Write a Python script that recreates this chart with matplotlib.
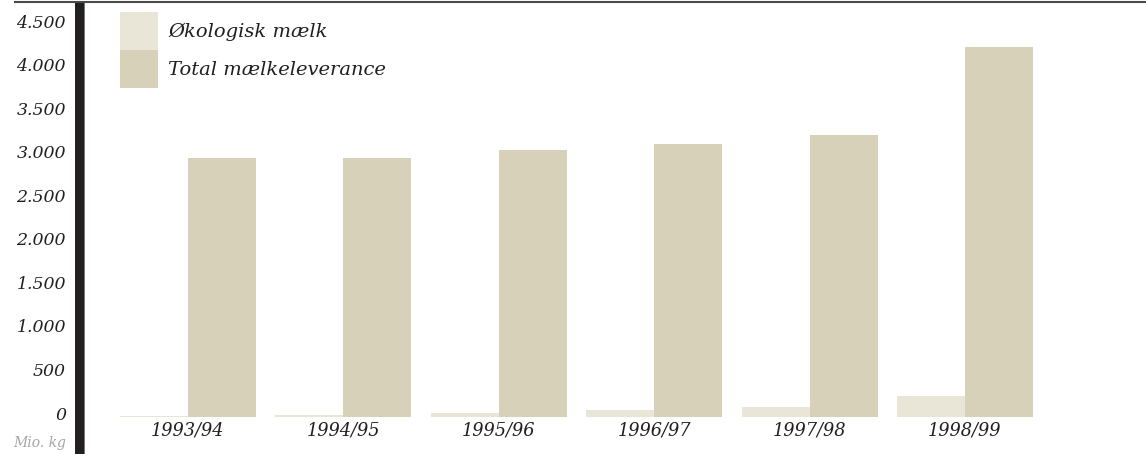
import matplotlib
matplotlib.use("Agg")
import matplotlib.pyplot as plt
import matplotlib.transforms as mtransforms
from matplotlib.patches import Rectangle
from matplotlib.lines import Line2D
import numpy as np

# Data (mio. kg)
seasons = ["1993/94", "1994/95", "1995/96", "1996/97", "1997/98", "1998/99"]
organic = [10, 20, 45, 75, 118, 245]
total = [2975, 2970, 3065, 3135, 3240, 4250]
yticks = [0, 500, 1000, 1500, 2000, 2500, 3000, 3500, 4000, 4500]
ytick_labels = ["0", "500", "1.000", "1.500", "2.000", "2.500", "3.000", "3.500", "4.000", "4.500"]

ORGANIC_COLOR = "#eae6d7"
TOTAL_COLOR = "#d8d1b9"
TEXT_COLOR = "#231f20"
FONT = "DejaVu Serif"

W, H = 1146, 454
fig = plt.figure(figsize=(W / 100, H / 100), dpi=100)
fig.patch.set_facecolor("white")

# axes box in pixels: left 85, right 1146, bottom 417, top 5
ax = fig.add_axes([85 / W, (H - 417) / H, (W - 85) / W, (417 - 5) / H])
px_per_unit = 87.1 / 1000.0
group_px = 155.4
ax.set_ylim(0, (417 - 5) / px_per_unit)
ax.set_xlim((85 - 188) / group_px, (1146 - 188) / group_px)

x = np.arange(len(seasons))
width = 0.437
ax.bar(x - width / 2, organic, width, color=ORGANIC_COLOR, linewidth=0)
ax.bar(x + width / 2, total, width, color=TOTAL_COLOR, linewidth=0)

for spine in ax.spines.values():
    spine.set_visible(False)

ax.set_yticks(yticks)
ax.set_yticklabels(ytick_labels, fontsize=12.5, fontstyle="italic", family=FONT, color=TEXT_COLOR)
ax.set_xticks(x)
ax.set_xticklabels(seasons, fontsize=12.8, fontstyle="italic", family=FONT, color=TEXT_COLOR)
ax.tick_params(axis="y", length=0, pad=13.7)
ax.tick_params(axis="x", length=0, pad=3.2)

# shift y labels up a little, as in the original
shift = mtransforms.ScaledTranslation(0, 4 / 100, fig.dpi_scale_trans)
for lbl in ax.get_yticklabels():
    lbl.set_transform(lbl.get_transform() + shift)

# unit label
fig.text(66 / W, 1 - 443 / H, "Mio. kg", ha="right", va="center", fontsize=10,
         fontstyle="italic", family=FONT, color="#a6a6a6")

# thick black vertical rule and top line
fig.add_artist(Rectangle((75 / W, 0), 9 / W, 1 - 2 / H, transform=fig.transFigure,
                         color=TEXT_COLOR, linewidth=0))
fig.add_artist(Rectangle((84 / W, 0), 1 / W, 1 - 2 / H, transform=fig.transFigure,
                         color="#777777", linewidth=0))
fig.add_artist(Line2D([15 / W, 1], [1 - 2 / H, 1 - 2 / H], transform=fig.transFigure,
                      color="#4a4a4a", linewidth=1.5))

# legend
legend_items = [("Økologisk mælk", ORGANIC_COLOR), ("Total mælkeleverance", TOTAL_COLOR)]
for i, (label, color) in enumerate(legend_items):
    top = 12 + i * 38
    fig.add_artist(Rectangle((120 / W, 1 - (top + 38) / H), 38 / W, 38 / H,
                             transform=fig.transFigure, color=color, linewidth=0))
    fig.text(168 / W, 1 - (top + 20) / H, label, ha="left", va="center", fontsize=14,
             fontstyle="italic", family=FONT, color=TEXT_COLOR)

fig.savefig("out.png", dpi=100)
